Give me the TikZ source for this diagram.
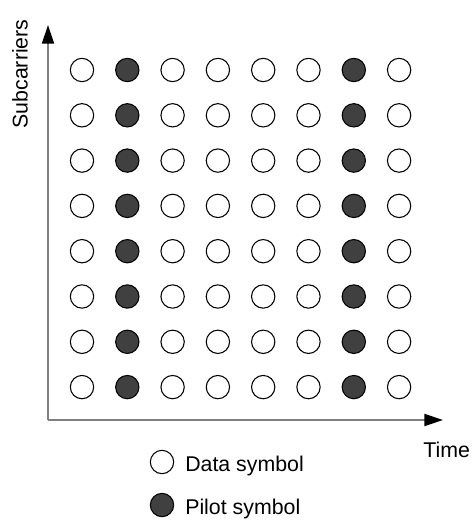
\documentclass[tikz,border=0pt]{standalone}
\usepackage{fontspec}
\setmainfont{Liberation Sans}
\usetikzlibrary{arrows.meta}
\begin{document}
\begin{tikzpicture}[x=0.75pt,y=-0.75pt,
  sym/.style={circle,draw=black,line width=0.8pt,minimum size=17.5pt,inner sep=0pt},
  datasym/.style={sym,fill=white},
  pilotsym/.style={sym,fill=black!75},
  axis/.style={draw=black!50,line width=1.5pt,
    -{Triangle[length=14pt,width=9pt,color=black,fill=black]}},
  lbl/.style={font=\fontsize{16pt}{19pt}\selectfont,inner sep=0pt}]
\useasboundingbox (0,0) rectangle (472,520);

% axes
\coordinate (O) at (48,420);
\coordinate (xend) at (443,420);
\coordinate (yend) at (48,25);
\draw[axis] (O) -- (xend);
\draw[axis] (O) -- (yend);

\node[lbl,rotate=90] (ylab) at (20,74) {Subcarriers};
\node[lbl,anchor=base west] (xlab) at (423,457) {Time};

% grid of symbols: pilots in columns 2 and 7
\foreach \c in {1,...,8}{
  \foreach \r in {1,...,8}{
    \pgfmathsetmacro{\px}{82+(\c-1)*45.3}
    \pgfmathsetmacro{\py}{70+(\r-1)*45.3}
    \ifnum\c=2 \def\kind{pilotsym}\else
      \ifnum\c=7 \def\kind{pilotsym}\else \def\kind{datasym}\fi\fi
    \node[\kind] (s-\r-\c) at (\px,\py) {};
  }
}

% legend
\node[datasym] (legdata) at (162,462) {};
\node[lbl,anchor=base west] (legdatatxt) at (185,471) {Data symbol};
\node[pilotsym] (legpilot) at (162,505) {};
\node[lbl,anchor=base west] (legpilottxt) at (185,514) {Pilot symbol};
\end{tikzpicture}
\end{document}
